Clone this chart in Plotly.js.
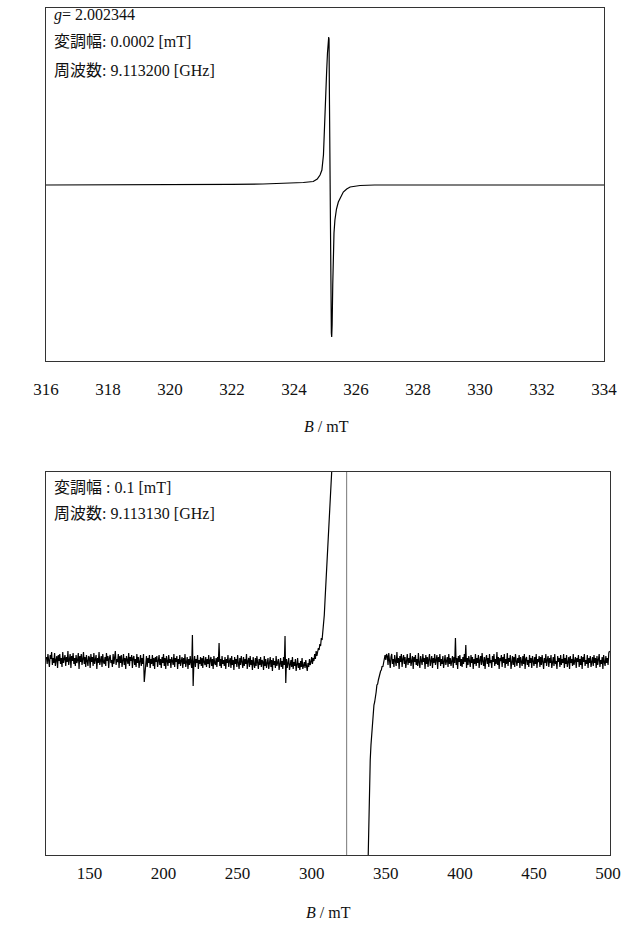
<!DOCTYPE html>
<html>
<head>
<meta charset="utf-8">
<script src="https://cdn.plot.ly/plotly-3.0.1.min.js"></script>
<style>
html,body{margin:0;padding:0;background:#fff;}
#chart{width:630px;height:928px;}
</style>
</head>
<body>
<div id="chart"></div>
<script>
// ---------- Top spectrum (narrow sweep) ----------
var topField = [316, 318, 320, 322, 323, 323.8, 324.3, 324.62, 324.75, 324.84, 324.9, 324.95, 325.0, 325.03, 325.055, 325.08, 325.107, 325.12, 325.13, 325.145, 325.16, 325.175, 325.19, 325.205, 325.216, 325.23, 325.25, 325.268, 325.29, 325.32, 325.37, 325.43, 325.5, 325.59, 325.7, 325.81, 326.13, 326.6, 327.5, 329, 331, 333, 334];
var topSignal = [0, 0, 0.3, 0.6, 1, 1.8, 2.5, 3.5, 6, 10, 15, 30, 63, 90, 115, 132, 145, 148, 146, 80, 0, -70, -125, -148, -152, -140, -100, -68, -48, -35, -24, -17, -12, -7, -4, -2, -0.5, 0, 0, 0, 0, 0, 0];
var topTicks = [316, 318, 320, 322, 324, 326, 328, 330, 332, 334];

// ---------- Bottom spectrum (wide sweep) ----------
// low-field part, 121.0 .. 316.0 mT, 0.5 mT steps
var lowStart = 121, lowStep = 0.5;
var lowSignal = [
 3, -4, 6, -2, -7, 5, 1, 8, -5, 2, -3, 7, -6, 0, 4, -8, 5, -1, 6, -4,
 2, -7, 8, -3, 1, 5, -6, 3, -2, 9, -5, 0, 6, -8, 4, -1, 7, -4, 2, -6,
 5, -3, 0, 7, -9, 4, -2, 6, -5, 1, 8, -4, 3, -7, 5, -1, -6, 4, 2, -8,
 6, -2, 3, -6, 7, -4, 0, 5, -9, 2, -3, 8, -5, 1, 4, -7, 6, -2, -4, 3,
 -6, 7, -1, 4, -8, 2, 5, -3, 0, -7, 6, -4, 3, 9, -5, 1, -2, 6, -8, 4,
 -3, 5, -7, 1, 6, -5, 2, -9, 4, 0, -4, 7, -6, 3, -1, 5, -8, 2, 4, -5,
 1, -7, 6, -3, 3, -8, 0, 5, -6, 2, -4, 6, -22, -9, -1, 4, -7, 2, -3, 5,
 -8, 1, -4, 5, -6, 2, -9, 3, -2, 4, -7, 0, 5, -5, 1, -8, 3, -3, 6, -6,
 2, -9, 4, -1, -6, 5, -3, 1, -8, 3, 0, -5, 6, -7, 2, -2, 4, -9, 1, -4,
 5, -6, -1, 3, -8, 2, -4, 6, -7, 0, 3, -9, 1, -5, 4, -3, -8, 25, -26, -2,
 4, -7, 1, -3, 5, -9, 0, -4, 3, -6, 2, -8, 4, -2, -5, 3, -7, 1, -4, 5,
 -8, 0, 3, -6, 1, -9, 4, -3, -5, 2, -7, 3, -2, 17, -6, 1, -8, 4, -4, 0,
 -6, 3, -9, 1, -3, 5, -7, -1, 2, -8, 4, -5, 0, -10, 3, -4, 1, -7, 5, -3,
 -9, 2, -5, 4, -2, -8, 3, -6, 1, -4, 6, -9, -1, 2, -7, 4, -5, 0, -10, 3,
 -4, -8, 2, -6, 4, -3, -9, 1, -5, 3, -7, 0, -2, -10, 4, -6, 1, -8, -3, 2,
 -9, -2, 3, -7, 0, -11, 2, -5, -1, -8, 4, -6, -3, 1, -10, -4, 2, -7, -1, -9,
 3, -5, 24, -23, 1, -8, -3, 2, -10, -4, 0, -7, 3, -9, -2, -6, 1, -11, -4, 2,
 -8, -3, -10, -1, -7, 2, -9, -5, -2, -8, 0, -6, -11, -3, -7, 1, -5, -2, 3, -4,
 2, -1, 6, 1, 9, 4, 8, 12, 10, 16, 14, 22, 20, 28, 35, 45, 60, 72, 88, 100,
 112, 126, 140, 150, 162, 173, 185, 198, 215, 235, 260
];
// resonance crossing (off scale)
var crossField = [316, 318, 320, 322, 323.6, 323.6, 325, 328, 331, 334, 336, 338];
var crossSignal = [260, 400, 650, 1200, 6000, -6000, -2500, -1000, -550, -350, -260, -205];
// high-field part, 338.0 .. 501.0 mT, 0.5 mT steps
var highStart = 338, highStep = 0.5;
var highSignal = [
 -205, -160, -120, -100, -85, -72, -62, -54, -45, -42, -33, -32, -25, -24, -20, -16, -15, -11, -10, -6, -7, -2, 1, 5, 0, 6,
 4, -5, 7, -2, -8, 3, 6, -4, 1, -7, 5, -1, -6, 8, -3, 2, -9, 4, -2, 6,
 -7, 1, 5, -4, 3, -8, 0, 6, -5, 2, -3, 7, -6, -1, 4, -9, 3, -2, 5, -5,
 1, -6, 7, -3, -8, 4, 0, -5, 6, -2, 2, -9, 5, -4, 3, -7, 1, 6, -6, -1,
 4, -8, 2, -3, 6, -5, 0, 5, -9, 3, -2, 6, -6, 1, -4, 4, -8, 2, 5, -5,
 -1, 3, -7, 6, -4, 2, -6, 0, 4, -8, 3, -3, 22, -5, 2, -9, 4, -2, 5, -6,
 1, -7, 3, -4, 6, -2, 15, -8, 2, -5, 4, -1, -7, 5, -3, 3, -9, 1, -4, 6,
 -6, 2, -3, 5, -8, 0, 4, -5, 7, -2, -6, 3, -9, 1, 5, -4, 2, -7, 6, -3,
 0, -8, 4, -2, 6, -6, 1, -4, 8, -5, 3, -9, 2, -1, 5, -7, 3, -3, 6, -8,
 1, -4, 7, -6, 2, -2, 5, -9, 0, 4, -5, 3, -7, 6, -1, -6, 2, -3, 5, -8,
 3, -2, -6, 4, -4, 6, -9, 1, 3, -5, 0, -7, 5, -3, 2, -8, 4, -1, -6, 3,
 -4, 6, -8, 1, -2, 4, -7, 3, -5, 5, -1, -9, 2, -3, 6, -6, 0, 4, -7, 2,
 -3, 5, -8, 0, 3, -6, 6, -4, -1, -9, 4, -2, 2, -7, 5, -5, 1, -3, 6, -8,
 2, -4, 5, -7, -1, 3, -9, 4, -3, 1, -6, 6, -5, 0, 3, -8, 2, -2, 5, -7,
 1, -5, 4, -9, 3, -2, 6, -6, 0, -4, 5, -8, 2, -3, 4, -7, -1, 3, -6, 5,
 -3, 2, -8, 4, -5, 1, 6, -7, 0, -4, 3, -9, 5, -2, -6, 4, -3, 2, -5, 7,
 9
];
var bottomTicks = [150, 200, 250, 300, 350, 400, 450, 500];

var W = 630, H = 928;
function px(v){ return v / W; }
function py(v){ return 1 - v / H; }

var FONT = '"Liberation Serif", "Times New Roman", "Noto Sans CJK JP", serif';

var traces = [
  {x: topField, y: topSignal, xaxis: 'x', yaxis: 'y', mode: 'lines',
   line: {color: '#000', width: 1.2}, hoverinfo: 'skip'},
  {x0: lowStart, dx: lowStep, y: lowSignal, xaxis: 'x2', yaxis: 'y2', mode: 'lines',
   line: {color: '#000', width: 1.2}, hoverinfo: 'skip'},
  {x: crossField, y: crossSignal, xaxis: 'x2', yaxis: 'y2', mode: 'lines',
   line: {color: '#777', width: 1}, hoverinfo: 'skip'},
  {x0: highStart, dx: highStep, y: highSignal, xaxis: 'x2', yaxis: 'y2', mode: 'lines',
   line: {color: '#000', width: 1.2}, hoverinfo: 'skip'}
];

var axisCommon = {
  showline: true, mirror: true, linecolor: '#333', linewidth: 1,
  showgrid: false, zeroline: false, ticks: '',
  tickfont: {family: FONT, size: 17, color: '#111'}
};

var layout = {
  width: W, height: H,
  margin: {l: 0, r: 0, t: 0, b: 0},
  paper_bgcolor: '#fff', plot_bgcolor: '#fff',
  showlegend: false,
  xaxis: Object.assign({}, axisCommon, {
    domain: [px(46), px(604)], anchor: 'y', range: [316, 334],
    tickmode: 'array', tickvals: topTicks, ticktext: topTicks.map(String),
    ticklabelstandoff: 13
  }),
  yaxis: Object.assign({}, axisCommon, {
    domain: [py(361), py(8)], anchor: 'x', range: [-176, 177], showticklabels: false
  }),
  xaxis2: Object.assign({}, axisCommon, {
    domain: [px(46), px(610)], anchor: 'y2', range: [120.7, 501.3],
    tickmode: 'array', tickvals: bottomTicks, ticktext: bottomTicks.map(String),
    ticklabelstandoff: 3
  }),
  yaxis2: Object.assign({}, axisCommon, {
    domain: [py(855), py(472)], anchor: 'x2', range: [-195, 188], showticklabels: false
  }),
  annotations: [
    {text: '<i>g</i>= 2.002344', x: px(52), y: py(15)},
    {text: '変調幅: 0.0002 [mT]', x: px(52), y: py(42)},
    {text: '周波数: 9.113200 [GHz]', x: px(52), y: py(70)},
    {text: '変調幅 : 0.1 [mT]', x: px(52), y: py(487)},
    {text: '周波数: 9.113130 [GHz]', x: px(52), y: py(513)}
  ].map(function(a){
    return Object.assign({xref: 'paper', yref: 'paper', xanchor: 'left', yanchor: 'middle',
      showarrow: false, font: {family: FONT, size: 16, color: '#111'}}, a);
  }).concat([
    {text: '<i>B</i> / mT', x: px(326), y: py(426)},
    {text: '<i>B</i> / mT', x: px(328), y: py(912)}
  ].map(function(a){
    return Object.assign({xref: 'paper', yref: 'paper', xanchor: 'center', yanchor: 'middle',
      showarrow: false, font: {family: FONT, size: 16, color: '#111'}}, a);
  }))
};

Plotly.newPlot('chart', traces, layout, {staticPlot: true, displayModeBar: false});
</script>
</body>
</html>
